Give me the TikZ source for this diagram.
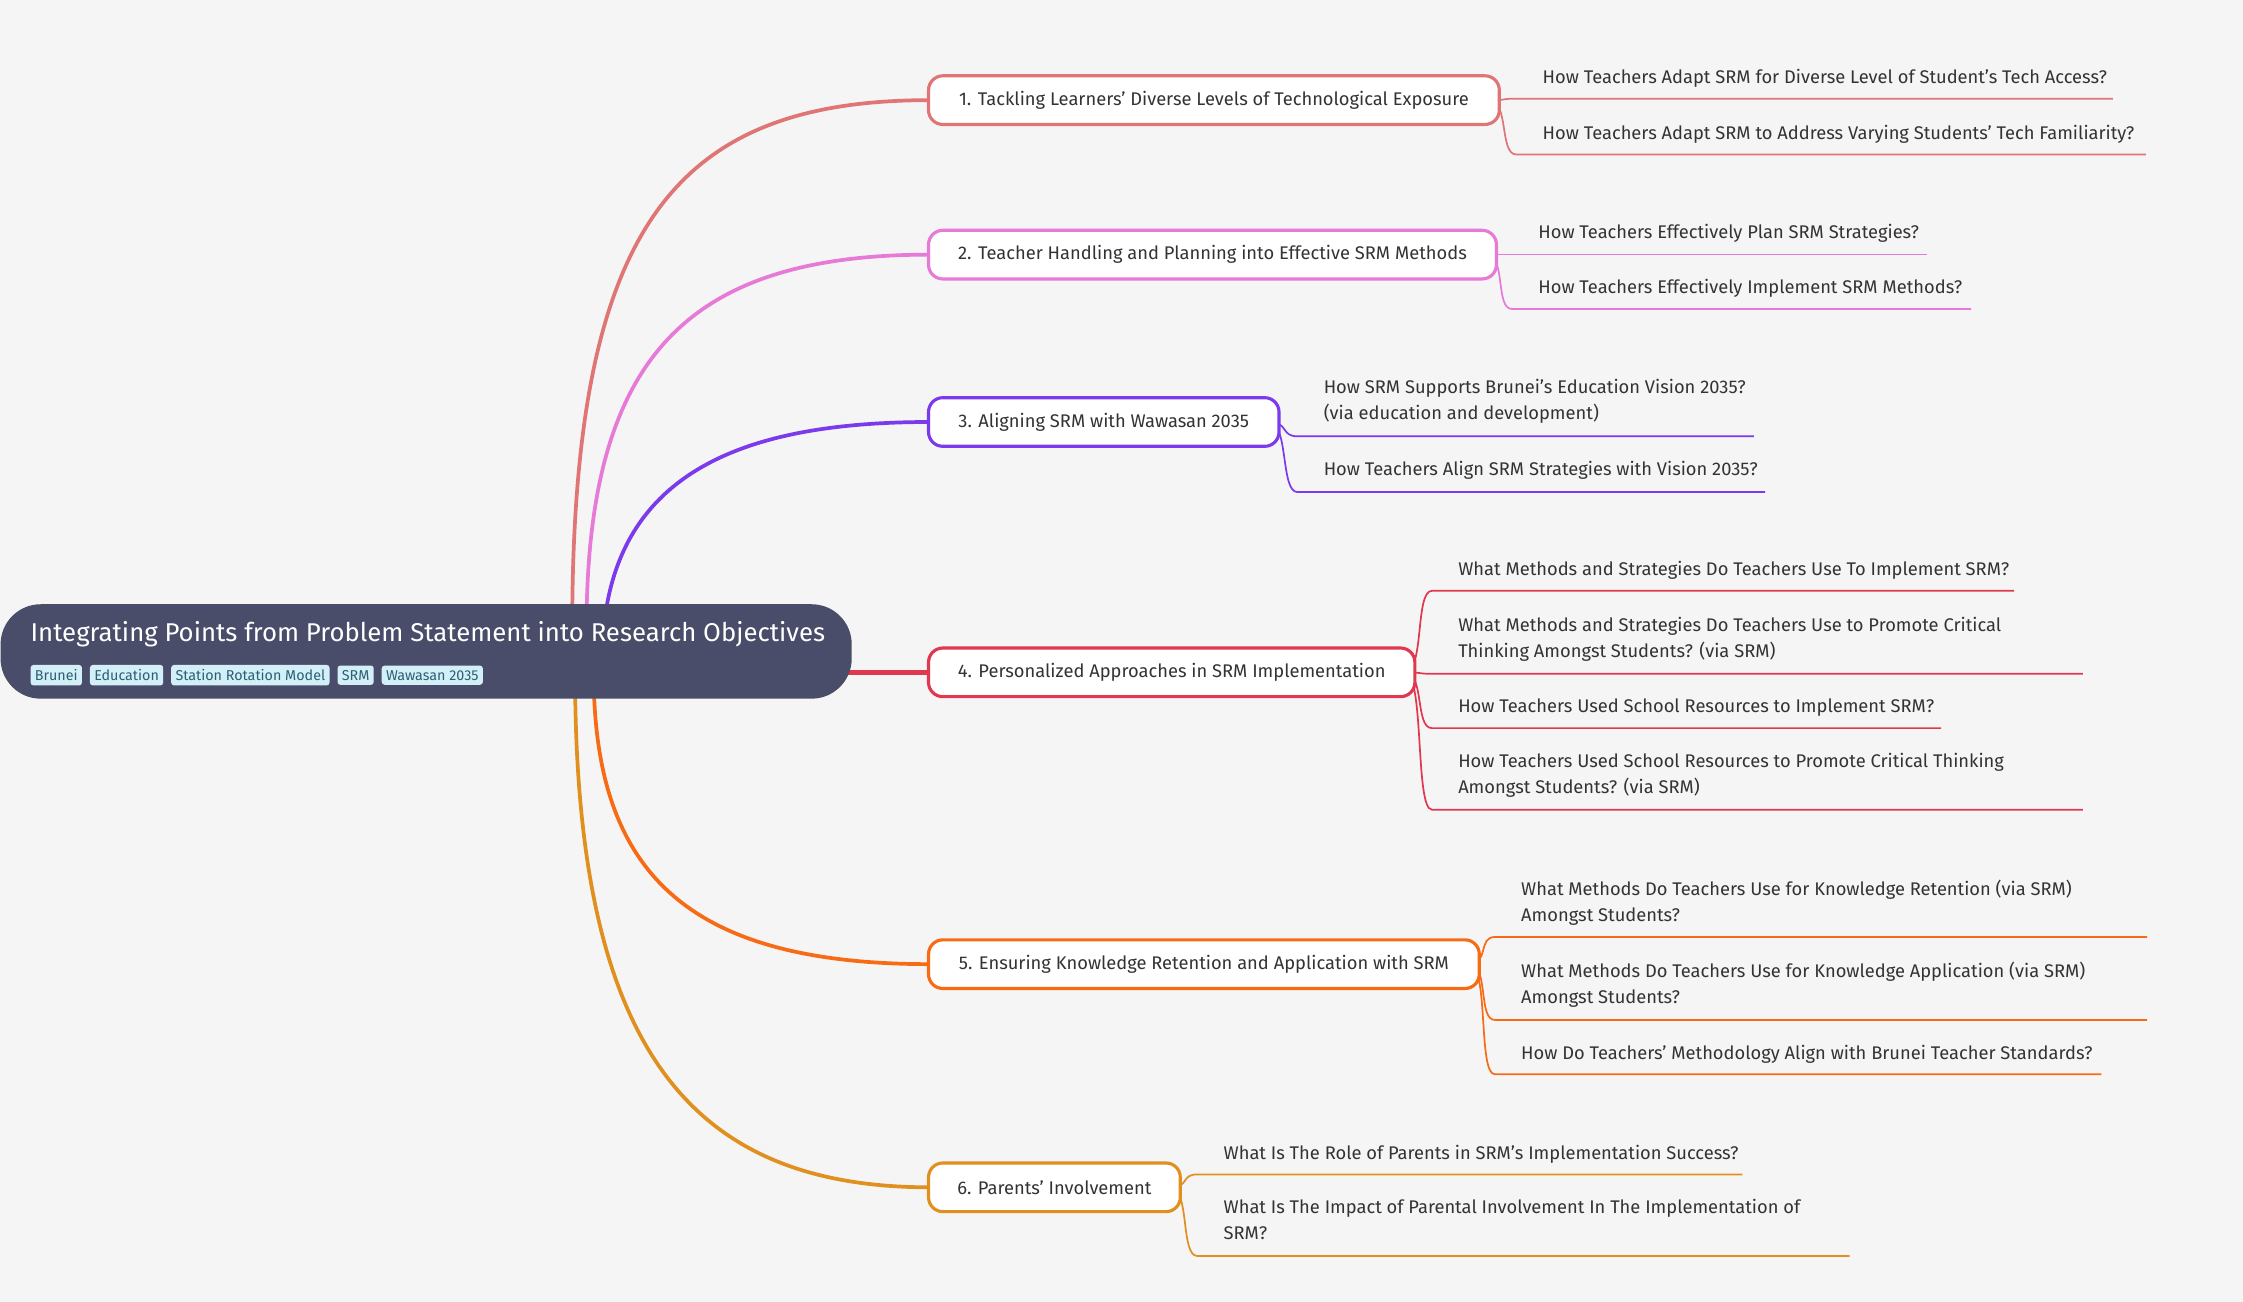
\documentclass[tikz,border=0pt]{standalone}
\usepackage{fontspec}
\setmainfont{Fira Sans}
\definecolor{bg}{HTML}{F5F5F5}
\definecolor{rootc}{HTML}{4A4D69}
\definecolor{tagc}{HTML}{D3F0F8}
\definecolor{tagt}{HTML}{2B5F73}
\definecolor{txt}{HTML}{333333}
\definecolor{cA}{HTML}{E07575}
\definecolor{cB}{HTML}{E67AD6}
\definecolor{cC}{HTML}{7C3AED}
\definecolor{cD}{HTML}{E0394F}
\definecolor{cE}{HTML}{F76B15}
\definecolor{cF}{HTML}{E0901F}
\tikzset{
 br/.style={draw=#1,line width=1.1pt,fill=white,rounded corners=5pt,inner xsep=6pt,minimum height=17pt,anchor=west,font=\fontsize{6.4}{8}\selectfont,text=txt,align=left},
 ch/.style={anchor=north west,inner sep=0pt,font=\fontsize{6.4}{9}\selectfont,text=txt,align=left},
 tag/.style={fill=tagc,rounded corners=1pt,inner xsep=1.5pt,inner ysep=1.6pt,font=\fontsize{5}{6}\selectfont,text=tagt,anchor=west},
}
% child: color, nodeRightX, nodeMidY, textX, textTopY, ulY, endX, text, name
\newcommand{\kid}[9]{%
 \node[ch] (#9) at (#4,#5+2) {#8};
 \coordinate (#9s) at (#4-18,#6);
 \coordinate (#9e) at (#7,#6);
 \draw[#1,line width=0.6pt] (#2-6,#3) .. controls (#2+8,#3) and (#4-30,#6) .. (#9s) -- (#9e);
}
\begin{document}
\begin{tikzpicture}[x=0.5pt,y=-0.5pt]
\fill[bg] (0,0) rectangle (1568,910);
\useasboundingbox (0,0) rectangle (1568,910);
% main connectors
\draw[cA,line width=1.3pt] (400,440) .. controls (400,160) and (470,70) .. (650,70);
\draw[cB,line width=1.3pt] (410,440) .. controls (410,250) and (480,178) .. (650,178);
\draw[cC,line width=1.3pt] (422,440) .. controls (432,330) and (520,295) .. (650,295);
\draw[cD,line width=1.8pt] (590,470) -- (650,470);
\draw[cE,line width=1.3pt] (415,470) .. controls (415,610) and (480,674) .. (650,674);
\draw[cF,line width=1.3pt] (402,470) .. controls (402,730) and (480,830) .. (650,830);
% root
\node[fill=rootc,rounded corners=14pt,minimum width=297.5pt,minimum height=33pt,anchor=north west,inner sep=0pt] (root) at (0,422) {};
\node[anchor=west,inner sep=0pt,text=white,font=\fontsize{9}{10}\selectfont] (title) at (21,443) {Integrating Points from Problem Statement into Research Objectives};
\node[tag] (t1) at (21,472) {Brunei};
\node[tag] (t2) at (t1.east) [xshift=2.4pt] {Education};
\node[tag] (t3) at (t2.east) [xshift=2.4pt] {Station Rotation Model};
\node[tag] (t4) at (t3.east) [xshift=2.4pt] {SRM};
\node[tag] (t5) at (t4.east) [xshift=2.4pt] {Wawasan 2035};
% children
\kid{cA}{1047}{70}{1078}{46}{69}{1477}{How Teachers Adapt SRM for Diverse Level of Student's Tech Access?}{a1}
\kid{cA}{1047}{70}{1078}{85}{108}{1500}{How Teachers Adapt SRM to Address Varying Students' Tech Familiarity?}{a2}
\kid{cB}{1045}{178}{1075}{154}{178}{1347}{How Teachers Effectively Plan SRM Strategies?}{b1c}
\kid{cB}{1045}{178}{1075}{193}{216}{1378}{How Teachers Effectively Implement SRM Methods?}{b2c}
\kid{cC}{893}{295}{925}{263}{305}{1226}{How SRM Supports Brunei's Education Vision 2035?\\(via education and development)}{c1}
\kid{cC}{893}{295}{925}{320}{344}{1234}{How Teachers Align SRM Strategies with Vision 2035?}{c2}
\kid{cD}{988}{470}{1019}{390}{413}{1408}{What Methods and Strategies Do Teachers Use To Implement SRM?}{d1}
\kid{cD}{988}{470}{1019}{429}{471}{1456}{What Methods and Strategies Do Teachers Use to Promote Critical\\Thinking Amongst Students? (via SRM)}{d2}
\kid{cD}{988}{470}{1019}{486}{509}{1357}{How Teachers Used School Resources to Implement SRM?}{d3}
\kid{cD}{988}{470}{1019}{524}{566}{1456}{How Teachers Used School Resources to Promote Critical Thinking\\Amongst Students? (via SRM)}{d4}
\kid{cE}{1033}{674}{1063}{613}{655}{1501}{What Methods Do Teachers Use for Knowledge Retention (via SRM)\\Amongst Students?}{e1}
\kid{cE}{1033}{674}{1063}{670}{713}{1501}{What Methods Do Teachers Use for Knowledge Application (via SRM)\\Amongst Students?}{e2}
\kid{cE}{1033}{674}{1063}{728}{751}{1469}{How Do Teachers' Methodology Align with Brunei Teacher Standards?}{e3}
\kid{cF}{824}{830}{855}{798}{821}{1218}{What Is The Role of Parents in SRM's Implementation Success?}{f1}
\kid{cF}{824}{830}{855}{836}{878}{1293}{What Is The Impact of Parental Involvement In The Implementation of\\SRM?}{f2}
% branches (on top of child connector starts)
\node[br=cA,minimum width=199.5pt] (b1) at (648,70) {1. Tackling Learners' Diverse Levels of Technological Exposure};
\node[br=cB,minimum width=198.5pt] (b2) at (648,178) {2. Teacher Handling and Planning into Effective SRM Methods};
\node[br=cC,minimum width=122.5pt] (b3) at (648,295) {3. Aligning SRM with Wawasan 2035};
\node[br=cD,minimum width=170pt] (b4) at (648,470) {4. Personalized Approaches in SRM Implementation};
\node[br=cE,minimum width=192.5pt] (b5) at (648,674) {5. Ensuring Knowledge Retention and Application with SRM};
\node[br=cF,minimum width=88pt] (b6) at (648,830) {6. Parents' Involvement};
\end{tikzpicture}
\end{document}
